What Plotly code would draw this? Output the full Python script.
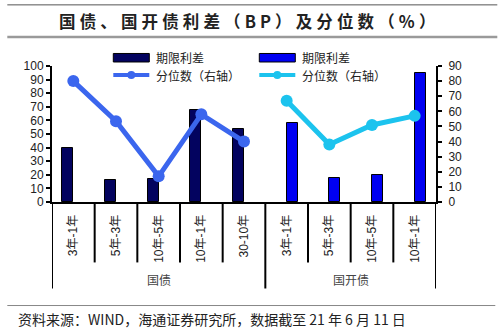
import plotly.graph_objects as go

# ---- data ----
groups = ["国债", "国开债"]
gov_terms = ["3年-1年", "5年-3年", "10年-5年", "10年-1年", "30-10年"]
cdb_terms = ["3年-1年", "5年-3年", "10年-5年", "10年-1年"]
gov_spread = [40, 16, 17, 68, 54]          # BP, left axis
cdb_spread = [58, 18, 20, 95]              # BP, left axis
gov_pct = [80, 53.5, 17, 58, 40]           # percentile, right axis
cdb_pct = [67, 38, 51, 57]                 # percentile, right axis
left_ticks = list(range(0, 101, 10))
right_ticks = list(range(0, 91, 10))

terms = gov_terms + cdb_terms
gov_x = list(range(len(gov_terms)))
cdb_x = list(range(len(gov_terms), len(terms)))

# ---- page geometry (pixels) ----
W, H = 500, 332
PL, PR, PT, PB = 51.7, 435.7, 66.0, 201.7   # plot area box


def fx(px):
    return (px - PL) / (PR - PL)


def fy(py):
    return (PB - py) / (PB - PT)


NAVY = "#03035F"
BLUE = "#0000F2"
LINE1 = "#3B66EE"
LINE2 = "#1CC3EE"
TXT = "#222222"
CJK = "Noto Sans CJK SC"
LAT = "Liberation Sans, Arial, Noto Sans CJK SC"

fig = go.Figure()

fig.add_trace(go.Bar(
    x=gov_x, y=gov_spread, width=0.26, offset=-0.26,
    marker=dict(color=NAVY, line=dict(color="black", width=1)),
    name="期限利差", showlegend=False))
fig.add_trace(go.Bar(
    x=cdb_x, y=cdb_spread, width=0.26, offset=0,
    marker=dict(color=BLUE, line=dict(color="black", width=1)),
    name="期限利差", showlegend=False))
fig.add_trace(go.Scatter(
    x=gov_x, y=gov_pct, yaxis="y2", mode="lines+markers",
    line=dict(color=LINE1, width=5), marker=dict(size=12, color=LINE1),
    name="分位数（右轴）", showlegend=False))
fig.add_trace(go.Scatter(
    x=cdb_x, y=cdb_pct, yaxis="y2", mode="lines+markers",
    line=dict(color=LINE2, width=5), marker=dict(size=12, color=LINE2),
    name="分位数（右轴）", showlegend=False))

shapes = []
annotations = []


def label(x, y, text, size, xref="paper", xanchor="center", color=TXT):
    annotations.append(dict(x=x, y=y, xref=xref, yref="paper", text=text,
                            xanchor=xanchor, yanchor="middle", showarrow=False,
                            font=dict(family=CJK, size=size, color=color)))


# category dividers below the axis
n = len(terms)
for i in range(n + 1):
    xv = i - 0.5
    long_line = i in (0, len(gov_terms), n)
    shapes.append(dict(type="line", xref="x", yref="paper",
                       x0=xv, x1=xv, y0=0, y1=fy(288 if long_line else 262),
                       line=dict(color="black", width=2)))

# group labels
label((len(gov_terms) - 1) / 2, fy(279), groups[0], 12, xref="x", color="#444")
label((cdb_x[0] + cdb_x[-1]) / 2, fy(279), groups[1], 12, xref="x", color="#444")

# title and rules
title = "国债、国开债利差（BP）及分位数（%）"
label(fx(247), fy(21), "<b>" + "\u2005".join(title) + "</b>", 16.5)
shapes.append(dict(type="line", xref="paper", yref="paper",
                   x0=fx(7), x1=fx(497), y0=fy(5), y1=fy(5),
                   line=dict(color="#555", width=1)))
shapes.append(dict(type="line", xref="paper", yref="paper",
                   x0=fx(7), x1=fx(497), y0=fy(37), y1=fy(37),
                   line=dict(color="#9a9a9a", width=2.5)))
shapes.append(dict(type="line", xref="paper", yref="paper",
                   x0=fx(7), x1=fx(495), y0=fy(305), y1=fy(305),
                   line=dict(color="#888", width=1)))
label(fx(16), fy(318), "资料来源：WIND，海通证券研究所，数据截至 21 年 6 月 11 日",
      14, xanchor="left")


# legend keys
def legend_block(x0, bar_color, line_color):
    x1 = x0 + 36
    shapes.append(dict(type="rect", xref="paper", yref="paper",
                       x0=fx(x0), x1=fx(x1), y0=fy(62), y1=fy(53.5),
                       fillcolor=bar_color, line=dict(color="black", width=1)))
    shapes.append(dict(type="line", xref="paper", yref="paper",
                       x0=fx(x0), x1=fx(x1), y0=fy(75), y1=fy(75),
                       line=dict(color=line_color, width=4)))
    cx = (x0 + x1) / 2
    shapes.append(dict(type="circle", xref="paper", yref="paper",
                       x0=fx(cx - 4), x1=fx(cx + 4), y0=fy(79), y1=fy(71),
                       fillcolor=line_color, line=dict(color=line_color, width=0)))
    label(fx(x1 + 5), fy(57.5), "期限利差", 12, xanchor="left")
    label(fx(x1 + 5), fy(75), "分位数（右轴）", 12, xanchor="left")


legend_block(113, NAVY, LINE1)
legend_block(259, BLUE, LINE2)

fig.update_layout(
    width=W, height=H,
    margin=dict(l=PL, r=W - PR, t=PT, b=H - PB),
    paper_bgcolor="white", plot_bgcolor="white",
    showlegend=False,
    bargap=0,
    xaxis=dict(range=[-0.5, n - 0.5], tickvals=list(range(n)), ticktext=terms,
               tickangle=-90, ticks="", showline=True, linecolor="black", linewidth=2,
               showgrid=False, zeroline=False, ticklabelstandoff=6,
               tickfont=dict(family=LAT, size=12, color=TXT)),
    yaxis=dict(range=[0, 100], tickvals=left_ticks, ticks="outside", ticklen=4,
               tickwidth=1.5, tickcolor="black", showline=True, linecolor="black",
               linewidth=2, showgrid=False, zeroline=False,
               tickfont=dict(family=LAT, size=12, color=TXT)),
    yaxis2=dict(range=[0, 90], tickvals=right_ticks, overlaying="y", side="right",
                ticks="outside", ticklen=4, tickwidth=1.5, tickcolor="black",
                showline=True, linecolor="black", linewidth=2, showgrid=False,
                zeroline=False, ticklabelstandoff=4,
                tickfont=dict(family=LAT, size=12, color=TXT)),
    shapes=shapes, annotations=annotations,
)

fig.write_html("out.html")
